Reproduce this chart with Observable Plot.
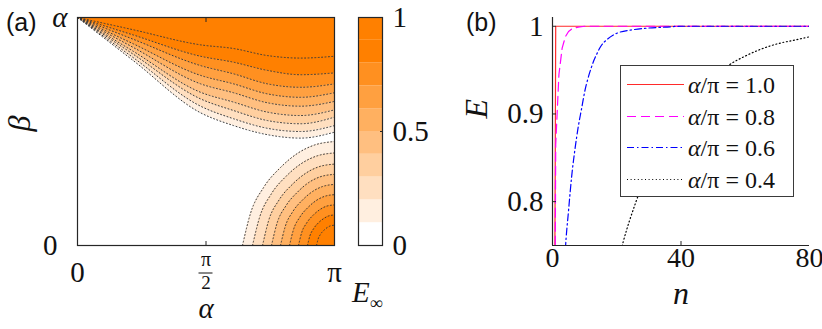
<!DOCTYPE html>
<html><head><meta charset="utf-8">
<script src="https://cdn.jsdelivr.net/npm/d3@7"></script>
<script src="https://cdn.jsdelivr.net/npm/@observablehq/plot@0.6"></script>
<style>
body{margin:0;background:#fff;}
#fig{position:relative;width:822px;height:329px;overflow:hidden;font-family:'Liberation Serif';color:#111;}
#fig svg{position:absolute;top:0;}
.lab{position:absolute;white-space:nowrap;line-height:1;}
#legend{position:absolute;left:620px;top:65px;width:174px;height:132px;box-sizing:border-box;border:1.2px solid #3a3a3a;background:#fff;}
.row{position:absolute;left:0;height:30px;}
.row svg{position:absolute;left:5px;top:0;}
.row span{position:absolute;left:67px;top:3px;font-size:24px;white-space:nowrap;line-height:1;font-family:'Liberation Serif';}
</style></head><body><div id="fig"></div>
<script>
// ---------- panel (a): contour data (alpha/pi, beta/alpha) ----------
const contourLevels = [0.1, 0.2, 0.3, 0.4, 0.5, 0.6, 0.7, 0.8, 0.9];
const bandLo = [0, 0.1, 0.2, 0.3, 0.4, 0.5, 0.6, 0.7, 0.8, 0.9];
const bandHi = [0.1, 0.2, 0.3, 0.4, 0.5, 0.6, 0.7, 0.8, 0.9, 1.0];
const bandColors = ["#ffffff", "#ffefe0", "#ffdfc0", "#ffcf9f", "#ffbf80", "#ffb060", "#ffa040", "#ff9020", "#ff8000", "#ff8000"];
const upperU = [0, 0.218, 0.479, 0.607, 0.739, 0.868, 1.0];
const upperV = [
  [1, 0.810, 0.582, 0.526, 0.486, 0.471, 0.497],
  [1, 0.823, 0.611, 0.556, 0.514, 0.500, 0.526],
  [1, 0.838, 0.643, 0.592, 0.548, 0.534, 0.563],
  [1, 0.851, 0.672, 0.629, 0.585, 0.570, 0.595],
  [1, 0.868, 0.709, 0.670, 0.626, 0.611, 0.632],
  [1, 0.884, 0.746, 0.709, 0.665, 0.650, 0.670],
  [1, 0.904, 0.789, 0.753, 0.709, 0.694, 0.709],
  [1, 0.923, 0.830, 0.804, 0.768, 0.749, 0.757],
  [1, 0.946, 0.880, 0.864, 0.833, 0.822, 0.830]
];
const lowerU = [
  [0.642, 0.673, 0.724, 0.790, 0.856, 0.918, 1.0],
  [0.681, 0.709, 0.754, 0.813, 0.872, 0.927, 1.0],
  [0.720, 0.744, 0.784, 0.836, 0.887, 0.936, 1.0],
  [0.755, 0.776, 0.811, 0.856, 0.901, 0.944, 1.0],
  [0.790, 0.808, 0.838, 0.877, 0.915, 0.952, 1.0],
  [0.825, 0.840, 0.865, 0.897, 0.930, 0.960, 1.0],
  [0.860, 0.872, 0.892, 0.918, 0.944, 0.968, 1.0],
  [0.895, 0.904, 0.919, 0.938, 0.958, 0.976, 1.0],
  [0.930, 0.936, 0.946, 0.959, 0.972, 0.984, 1.0]
];
const lowerV = [
  [0, 0.140, 0.254, 0.342, 0.404, 0.439, 0.456],
  [0, 0.125, 0.226, 0.305, 0.360, 0.391, 0.406],
  [0, 0.110, 0.199, 0.268, 0.316, 0.344, 0.357],
  [0, 0.096, 0.174, 0.234, 0.277, 0.301, 0.312],
  [0, 0.082, 0.149, 0.201, 0.237, 0.258, 0.268],
  [0, 0.068, 0.124, 0.167, 0.198, 0.215, 0.223],
  [0, 0.055, 0.099, 0.134, 0.158, 0.172, 0.178],
  [0, 0.041, 0.074, 0.100, 0.118, 0.129, 0.134],
  [0, 0.027, 0.050, 0.067, 0.079, 0.086, 0.089]
];
const aXTicks = [0, 0.5, 1];
const aXTickLabels = ["0", "π/2", "π"];
const aYTicks = [0, 1];
const aYTickLabels = ["0", "α"];
const cbTicks = [0, 0.5, 1];
const cbTickLabels = ["0", "0.5", "1"];

// ---------- panel (b): E vs n ----------
const legendLabels = ["1.0", "0.8", "0.6", "0.4"];
const nRed = [0, 1, 80];
const eRed = [0, 1, 1];
const nMag = [0, 1, 2, 3, 4, 5, 6, 8, 10, 80];
const eMag = [0, 0.865, 0.945, 0.975, 0.988, 0.994, 0.997, 0.999, 1, 1];
const nBlue = [0, 2, 3, 4, 5, 6, 7, 8, 9, 10, 11, 12, 13, 14, 15, 17, 20, 25, 30, 35, 40, 80];
const eBlue = [0.2, 0.5, 0.66, 0.745, 0.79, 0.83, 0.86, 0.885, 0.905, 0.925, 0.94, 0.952, 0.962, 0.97, 0.977, 0.985, 0.992, 0.996, 0.998, 0.999, 1, 1];
const nBlack = [14, 18, 22, 26, 30, 35, 40, 45, 50, 55, 60, 65, 70, 75, 80];
const eBlack = [0.6, 0.69, 0.754, 0.80, 0.838, 0.875, 0.903, 0.925, 0.942, 0.956, 0.966, 0.974, 0.98, 0.984, 0.988];
const bXTicks = [0, 40, 80];
const bYTicks = [0.8, 0.9, 1];
const bYTickLabels = ["0.8", "0.9", "1"];

// ---------- build ----------
const H = 329;
const ink = "#262626";
const mathFont = "Liberation Serif";
const fig = document.getElementById("fig");
const baseStyle = {fontFamily: mathFont, fontSize: "28px", color: "#111", background: "transparent", overflow: "visible"};
const pts = (us, vs) => us.map((u, i) => ({u, v: vs[i]}));
const upperSets = upperV.map(vs => pts(upperU, vs));
const lowerSets = lowerU.map((us, k) => pts(us, lowerV[k]));
const levelFill = contourLevels.map(l => bandColors[Math.round(l * 10)]);
const dotted = {stroke: "#3a3a3a", strokeWidth: 1, strokeDasharray: "1,2.4", curve: "monotone-x"};
const tf = {fontFamily: mathFont};

const chartA = Plot.plot({
  width: 345, height: H, marginLeft: 77, marginRight: 11, marginTop: 17, marginBottom: 84,
  x: {domain: [0, 1], label: null}, y: {domain: [0, 1], label: null},
  style: baseStyle,
  marks: [
    ...upperSets.map((d, k) => Plot.areaY(d, {x: "u", y1: "v", y2: 1, fill: levelFill[k], curve: "monotone-x"})),
    ...lowerSets.map((d, k) => Plot.areaY(d, {x: "u", y1: 0, y2: "v", fill: levelFill[k], curve: "monotone-x"})),
    ...[...upperSets, ...lowerSets].map(d => Plot.line(d, {x: "u", y: "v", ...dotted})),
    Plot.frame({stroke: ink, strokeWidth: 1.2}),
    Plot.axisX({anchor: "bottom", ticks: [aXTicks[1]], tickSize: -4, tickFormat: () => "", stroke: ink}),
    Plot.axisX({anchor: "top", ticks: [aXTicks[1]], tickSize: -4, tickFormat: () => "", stroke: ink}),
    Plot.axisX({anchor: "bottom", ticks: [aXTicks[0], aXTicks[2]], tickSize: 0, tickPadding: 16, tickFormat: d => aXTickLabels[aXTicks.indexOf(d)], fontSize: 29, ...tf}),
    Plot.axisX({anchor: "bottom", ticks: [aXTicks[1]], tickSize: 0, tickPadding: 6, tickFormat: () => aXTickLabels[1].split("/")[0], fontSize: 20, ...tf}),
    Plot.axisX({anchor: "bottom", ticks: [aXTicks[1]], tickSize: 0, tickPadding: 30, tickFormat: () => aXTickLabels[1].split("/")[1], fontSize: 19, ...tf}),
    Plot.axisY({anchor: "left", ticks: [aYTicks[0]], tickSize: 0, tickPadding: 20, tickFormat: () => aYTickLabels[0], fontSize: 29, ...tf}),
    Plot.axisY({anchor: "left", ticks: [aYTicks[1]], tickSize: 0, tickPadding: 10, tickFormat: () => aYTickLabels[1], fontSize: 29, fontStyle: "italic", ...tf}),
    Plot.text(["β"], {text: d => d, frameAnchor: "left", dx: -58, rotate: -90, fontSize: 32, fontStyle: "italic", ...tf}),
    Plot.text(["α"], {text: d => d, frameAnchor: "bottom", dy: 72, fontSize: 29, fontStyle: "italic", ...tf})
  ]
});
chartA.style.left = "0px";
fig.appendChild(chartA);
// fraction bar for the pi/2 tick label
{
  const px = chartA.scale("x").apply(aXTicks[1]);
  const py = chartA.scale("y").apply(0) + 28;
  d3.select(chartA).append("line").attr("x1", px - 7).attr("x2", px + 7).attr("y1", py).attr("y2", py)
    .attr("stroke", "#111").attr("stroke-width", 1);
}

const bands = bandLo.map((lo, i) => ({lo, hi: bandHi[i], color: bandColors[i]}));
const chartC = Plot.plot({
  width: 100, height: H, marginLeft: 13, marginRight: 63, marginTop: 17, marginBottom: 84,
  y: {domain: [0, 1], label: null},
  style: baseStyle,
  marks: [
    Plot.rect(bands, {y1: "lo", y2: "hi", fill: "color"}),
    Plot.frame({stroke: ink, strokeWidth: 1.2}),
    Plot.axisY({anchor: "right", ticks: cbTicks, tickSize: 0, tickPadding: 10, tickFormat: d => cbTickLabels[cbTicks.indexOf(d)], fontSize: 29, ...tf}),
    Plot.axisY({anchor: "right", ticks: [cbTicks[1]], tickSize: -3, tickFormat: () => "", stroke: ink})
  ]
});
chartC.style.left = "345px";
fig.appendChild(chartC);

const series = [
  {n: nRed, e: eRed, stroke: "#ff2a2a", dash: null, curve: "linear"},
  {n: nMag, e: eMag, stroke: "#ff00ff", dash: "9,5", curve: "linear"},
  {n: nBlue, e: eBlue, stroke: "#0000ff", dash: "7,3,1.5,3", curve: "monotone-x"},
  {n: nBlack, e: eBlack, stroke: "#000000", dash: "1,2.6", curve: "monotone-x"}
];
const chartB = Plot.plot({
  width: 362, height: H, marginLeft: 92, marginRight: 13, marginTop: 17, marginBottom: 84,
  x: {domain: [0, 80], label: null}, y: {domain: [0.75, 1.01], label: null},
  style: baseStyle,
  marks: [
    ...series.map(s => Plot.line(s.n.map((n, i) => ({n, e: s.e[i]})), {x: "n", y: "e", stroke: s.stroke, strokeDasharray: s.dash || undefined, strokeWidth: 1.2, curve: s.curve, clip: true})),
    Plot.ruleX([0], {stroke: ink, strokeWidth: 1.2}),
    Plot.ruleY([0.75], {stroke: ink, strokeWidth: 1.2}),
    Plot.axisY({anchor: "left", ticks: bYTicks, tickSize: 0, tickPadding: 9, tickFormat: d => bYTickLabels[bYTicks.indexOf(d)], fontSize: 29, ...tf}),
    Plot.axisY({anchor: "left", ticks: bYTicks, tickSize: -4, tickFormat: () => "", stroke: ink}),
    Plot.axisX({anchor: "bottom", ticks: bXTicks, tickSize: 0, tickPadding: 2, tickFormat: d => String(d), fontSize: 28, ...tf}),
    Plot.axisX({anchor: "bottom", ticks: [bXTicks[1]], tickSize: -4, tickFormat: () => "", stroke: ink}),
    Plot.text(["E"], {text: d => d, frameAnchor: "left", dx: -76, dy: -13, rotate: -90, fontSize: 32, fontStyle: "italic", ...tf}),
    Plot.text(["n"], {text: d => d, frameAnchor: "bottom", dy: 58, fontSize: 32, fontStyle: "italic", ...tf})
  ]
});
chartB.style.left = "460px";
fig.appendChild(chartB);

// panel tags and colorbar label
function addLab(html, left, top, css) {
  const d = document.createElement("div");
  d.className = "lab"; d.innerHTML = html;
  d.style.left = left + "px"; d.style.top = top + "px";
  Object.assign(d.style, css || {});
  fig.appendChild(d);
}
addLab("(a)", 6, 10, {fontFamily: "Liberation Sans", fontSize: "25px"});
addLab("(b)", 466, 10, {fontFamily: "Liberation Sans", fontSize: "25px"});
addLab('<i>E</i><span style="font-size:18px;position:relative;top:7px">∞</span>', 352, 278, {fontSize: "29px", fontFamily: mathFont});

// legend
const legend = document.createElement("div");
legend.id = "legend";
series.forEach((s, i) => {
  const row = document.createElement("div");
  row.className = "row";
  row.style.top = (4 + i * 31.5) + "px";
  row.style.width = "100%";
  row.innerHTML = `<svg width="60" height="30"><line x1="1" x2="58" y1="14.5" y2="14.5" stroke="${s.stroke}" stroke-width="1.2" ${s.dash ? `stroke-dasharray="${s.dash}"` : ""}/></svg><span><i>α</i>/π = ${legendLabels[i]}</span>`;
  legend.appendChild(row);
});
fig.appendChild(legend);
</script></body></html>
